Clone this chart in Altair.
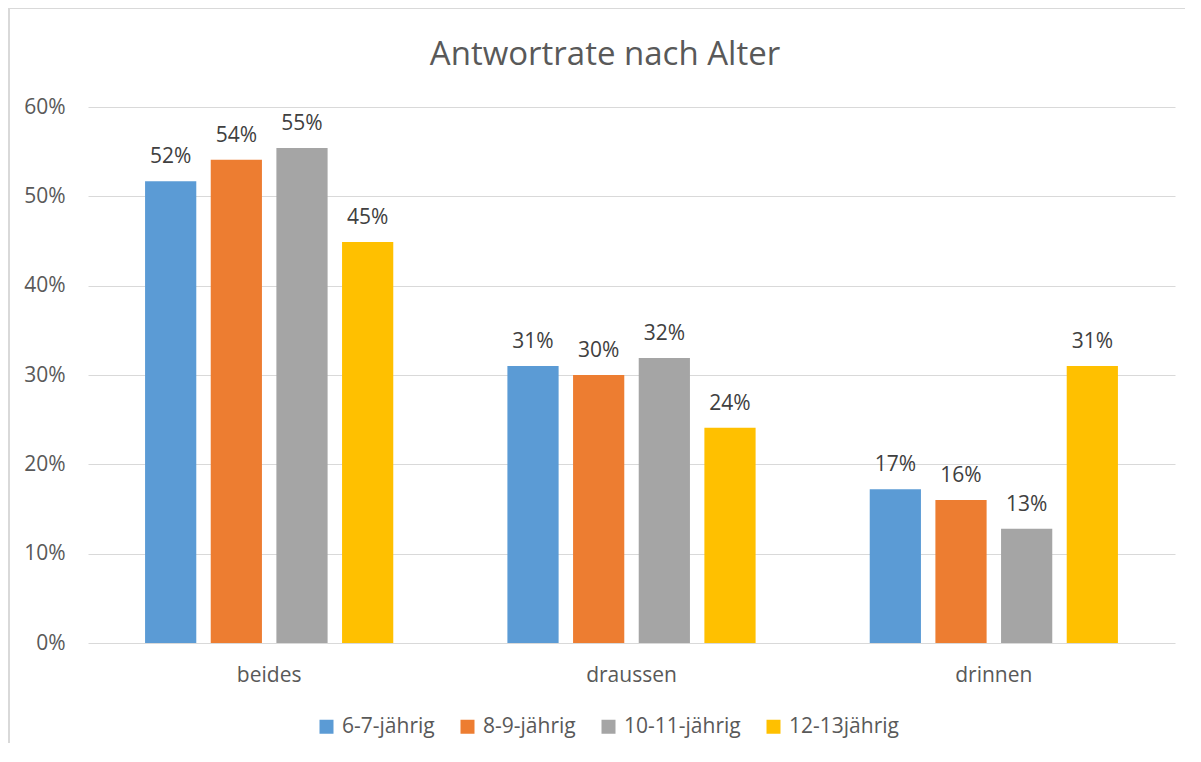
import altair as alt
import pandas as pd

title_text = "Antwortrate nach Alter"
categories = ["beides", "draussen", "drinnen"]
groups = ["6-7-jährig", "8-9-jährig", "10-11-jährig", "12-13jährig"]
colors = ["#5B9BD5", "#ED7D31", "#A5A5A5", "#FFC000"]
values = {
    "6-7-jährig": [0.517, 0.310, 0.172],
    "8-9-jährig": [0.541, 0.300, 0.160],
    "10-11-jährig": [0.554, 0.319, 0.128],
    "12-13jährig": [0.449, 0.241, 0.310],
}
y_ticks = [0, 0.1, 0.2, 0.3, 0.4, 0.5, 0.6]

rows = []
for g in groups:
    for c, v in zip(categories, values[g]):
        rows.append({"Kategorie": c, "Alter": g, "Wert": v})
df = pd.DataFrame(rows)

FONT = "Open Sans"
TXT = "#595959"
GRID = "#D9D9D9"
FS = 21

x = alt.X("Kategorie:N", sort=categories, title=None,
          scale=alt.Scale(paddingInner=0.315, paddingOuter=0.1575),
          axis=alt.Axis(labelAngle=0, ticks=False, domain=False, labelPadding=21,
                        labelFontSize=FS, labelColor=TXT, labelFont=FONT))
xo = alt.XOffset("Alter:N", sort=groups,
                 scale=alt.Scale(paddingInner=0.22, paddingOuter=0))
y = alt.Y("Wert:Q", title=None,
          scale=alt.Scale(domain=[0, 0.6], nice=False),
          axis=alt.Axis(format=".0%", values=y_ticks, grid=True, gridColor=GRID,
                        gridWidth=1.2, domain=False, ticks=False, labelPadding=23,
                        labelFontSize=FS, labelColor=TXT, labelFont=FONT))

bars = alt.Chart(df).mark_bar().encode(
    x=x, xOffset=xo, y=y,
    color=alt.Color("Alter:N", sort=groups,
                    scale=alt.Scale(domain=groups, range=colors),
                    legend=alt.Legend(orient="none", legendX=228, legendY=609,
                                      direction="horizontal", title=None, padding=0,
                                      symbolType="square", symbolSize=196,
                                      symbolStrokeWidth=0, labelFontSize=FS,
                                      labelColor=TXT, labelFont=FONT,
                                      labelOffset=5, columnPadding=22)),
)

labels = alt.Chart(df).mark_text(
    baseline="alphabetic", dy=-18, fontSize=FS, color="#404040", font=FONT
).encode(x=x, xOffset=xo, y=y, text=alt.Text("Wert:Q", format=".0%"))

title = alt.Chart(pd.DataFrame({"t": [title_text]})).mark_text(
    baseline="alphabetic", align="center", fontSize=33, font=FONT, color=TXT
).encode(text="t:N", x=alt.value(517), y=alt.value(-42))

border_top = alt.Chart(df).mark_rule(color=GRID, strokeWidth=2).encode(
    x=alt.value(-80), x2=alt.value(1200), y=alt.value(-99))
border_left = alt.Chart(df).mark_rule(color=GRID, strokeWidth=2).encode(
    x=alt.value(-79), y=alt.value(-99), y2=alt.value(700))

chart = alt.layer(bars, labels, title, border_top, border_left).properties(
    width=1087, height=536,
    autosize=alt.AutoSizeParams(type="none"),
    padding={"left": 80, "top": 99, "right": 10, "bottom": 100},
).configure(background="white").configure_view(stroke=None)

chart.save("out.html", embed_options={"renderer": "svg", "actions": False})
